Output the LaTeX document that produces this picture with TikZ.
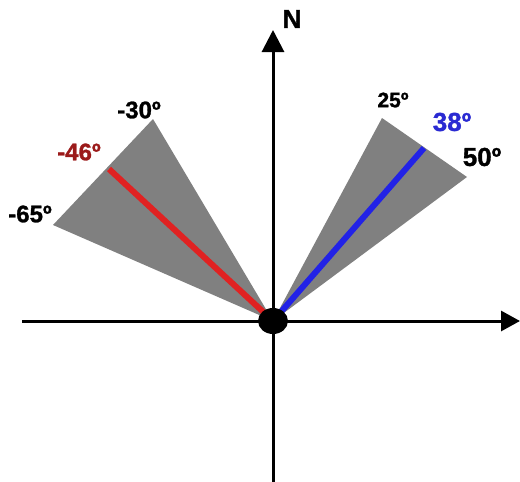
\documentclass[tikz,border=0pt]{standalone}
\usepackage{fontspec}
\setmainfont{Liberation Sans}[BoldFeatures={FakeBold=1.2}]
\usetikzlibrary{arrows.meta,shapes.geometric}
\definecolor{wedgegray}{HTML}{808080}
\definecolor{redline}{HTML}{E02222}
\definecolor{redlabel}{HTML}{9B1A1A}
\definecolor{blueline}{HTML}{2222E6}
\definecolor{bluelabel}{HTML}{2A2AD2}
\begin{document}
\begin{tikzpicture}[x=1pt,y=-1pt,
  axis/.style={line width=3pt,-{Triangle[length=22pt,width=22pt]}},
  wedge/.style={fill=wedgegray,draw=none},
  ray/.style={line width=6pt},
  lbl/.style={font=\bfseries\fontsize{24}{24}\selectfont,inner sep=0pt},
  lblbig/.style={font=\bfseries\fontsize{26}{26}\selectfont,inner sep=0pt},
  lblsmall/.style={font=\bfseries\fontsize{21}{21}\selectfont,inner sep=0pt}]
\useasboundingbox (0,0) rectangle (520,482);
% coordinates
\coordinate (O) at (273,321);
\coordinate (L30) at (153,119);
\coordinate (L65) at (53,225);
\coordinate (L46) at (109,169);
\coordinate (R25) at (382,118);
\coordinate (R50) at (467,177);
\coordinate (R38) at (424,148);
\coordinate (ytop) at (273,30);
\coordinate (ybot) at (273,482);
\coordinate (xleft) at (22,321);
\coordinate (xright) at (520,321);
% wedges
\fill[wedge] (O) -- (L30) -- (L65) -- cycle;
\fill[wedge] (O) -- (R25) -- (R50) -- cycle;
% rays
\draw[ray,redline] (O) -- (L46);
\draw[ray,blueline] (O) -- (R38);
% axes
\draw[axis] (ybot) -- (ytop);
\draw[axis,-{Triangle[length=19pt,width=20pt]}] (xleft) -- (xright);
% origin dot
\node[ellipse,fill=black,minimum width=30pt,minimum height=26pt,inner sep=0pt] (dot) at (O) {};
% labels
\node[lblbig] (N) at (292,19) {N};
\node[lbl] (t30) at (139,110) {-30º};
\node[lbl,text=redlabel] (t46) at (79,152) {-46º};
\node[lbl] (t65) at (30,214) {-65º};
\node[lblsmall] (t25) at (393,100) {25º};
\node[lblbig,text=bluelabel] (t38) at (452,122) {38º};
\node[lblbig] (t50) at (482,157) {50º};
\end{tikzpicture}
\end{document}
